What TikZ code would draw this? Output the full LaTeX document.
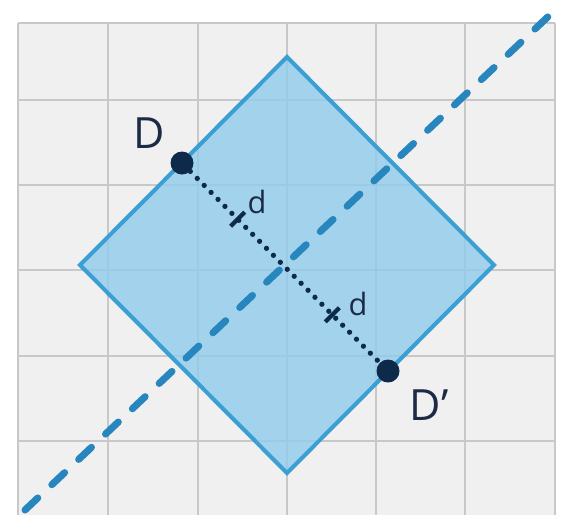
\documentclass[tikz,border=0pt]{standalone}
\usepackage{fontspec}
\setmainfont{Open Sans}
\usepackage{tikz}
\usetikzlibrary{
    positioning,  % Relative positioning
    calc          % Coordinate calculations
}

\definecolor{gridbg}{HTML}{F0F0F0}
\definecolor{gridline}{HTML}{C8C8C8}
\definecolor{squarefill}{HTML}{90CCEB}
\definecolor{squareedge}{HTML}{3C9FD4}
\definecolor{axisblue}{HTML}{2786BD}
\definecolor{pointnavy}{HTML}{0E2A4A}
\definecolor{labelnavy}{HTML}{1C2B45}

\tikzset{
    point/.style={circle, fill=pointnavy, inner sep=0pt, minimum size=0.46cm},
    tickmark/.style={pointnavy, line width=2.4pt},
    ptlabel/.style={text=labelnavy, inner sep=0pt, font=\fontsize{24.5}{28}\selectfont},
    distlabel/.style={text=labelnavy, inner sep=0pt, font=\fontsize{17.5}{20}\selectfont},
    dotline/.style={pointnavy, line width=3pt, line cap=round, dash pattern=on 0pt off 5.6pt},
    axisline/.style={axisblue, line width=4pt, line cap=round, dash pattern=on 10pt off 11pt}
}

\begin{document}
\begin{tikzpicture}[x=0.02cm, y=-0.02cm]
    \useasboundingbox (0,0) rectangle (570,515);
    % Square grid background
    \fill[gridbg] (18,23) rectangle (555,515);
    \foreach \gx in {18,108,198,287,376,465,555}
        \draw[gridline, line width=1.1pt] (\gx,23) -- (\gx,515);
    \foreach \gy in {23,100,185,270,356,441}
        \draw[gridline, line width=1.1pt] (18,\gy) -- (555,\gy);

    % Tilted square
    \filldraw[fill=squarefill, fill opacity=0.8, draw=squareedge, line width=2.3pt]
        (287,57) -- (494,265) -- (287,473) -- (80,265) -- cycle;

    % Axis of symmetry
    \coordinate (axisA) at (25,510);
    \coordinate (axisB) at (553,12);
    \draw[axisline] (axisA) -- (axisB);

    % Point and its image
    \node[point] (D) at (182,163) {};
    \node[point] (Dp) at (388,371) {};
    \draw[dotline] (D) -- (Dp)
        coordinate[pos=0.25] (tickA)
        coordinate[pos=0.75] (tickB);
    % Equal-distance ticks
    \draw[tickmark] ($(tickA)!0.2cm!90:(Dp)$) -- ($(tickA)!0.2cm!-90:(Dp)$);
    \draw[tickmark] ($(tickB)!0.2cm!90:(Dp)$) -- ($(tickB)!0.2cm!-90:(Dp)$);

    \node[ptlabel] (labD) at (149,133) {D};
    \node[ptlabel] (labDp) at (429,405) {D’};
    \node[distlabel] (distA) at (257,202) {d};
    \node[distlabel] (distB) at (358,304) {d};
\end{tikzpicture}
\end{document}
